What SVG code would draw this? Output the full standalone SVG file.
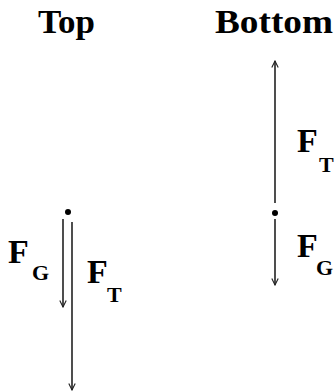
<svg xmlns="http://www.w3.org/2000/svg" width="336" height="392" viewBox="0 0 336 392">
<style>
.t{font-family:"Liberation Serif","Times New Roman",serif;font-weight:bold;fill:#000}
.h{font-size:33px}
.f{font-size:34px}
.s{font-size:22px}
.ln{stroke:#222;stroke-width:1.6;fill:none}
</style>
<defs>
<marker id="ah" viewBox="0 0 10 10" refX="9" refY="5" markerWidth="8" markerHeight="8" markerUnits="userSpaceOnUse" orient="auto">
<path d="M1,1 L9,5 L1,9" fill="none" stroke="#222" stroke-width="1.4"/>
</marker>
</defs>
<g id="title-top"><text class="t h" x="38" y="33" textLength="57" lengthAdjust="spacingAndGlyphs">Top</text></g>
<g id="title-bottom"><text class="t h" x="215" y="33" textLength="118" lengthAdjust="spacingAndGlyphs">Bottom</text></g>
<g id="dot-top"><circle cx="68" cy="212" r="3" fill="#000"/></g>
<g id="dot-bottom"><circle cx="275" cy="213" r="3" fill="#000"/></g>
<g id="connectors">
<line class="ln" x1="63" y1="219" x2="63" y2="307" marker-end="url(#ah)"/>
<line class="ln" x1="72" y1="222" x2="72" y2="390" marker-end="url(#ah)"/>
<line class="ln" x1="275" y1="203" x2="275" y2="61" marker-end="url(#ah)"/>
<line class="ln" x1="275" y1="219" x2="275" y2="285" marker-end="url(#ah)"/>
</g>
<g id="label-fg-top"><text class="t f" x="8" y="263">F</text><text class="t s" x="32" y="280">G</text></g>
<g id="label-ft-top"><text class="t f" x="87" y="283">F</text><text class="t s" x="107" y="302">T</text></g>
<g id="label-ft-bottom"><text class="t f" x="297" y="152">F</text><text class="t s" x="319" y="172">T</text></g>
<g id="label-fg-bottom"><text class="t f" x="297" y="257">F</text><text class="t s" x="316" y="275">G</text></g>
</svg>
